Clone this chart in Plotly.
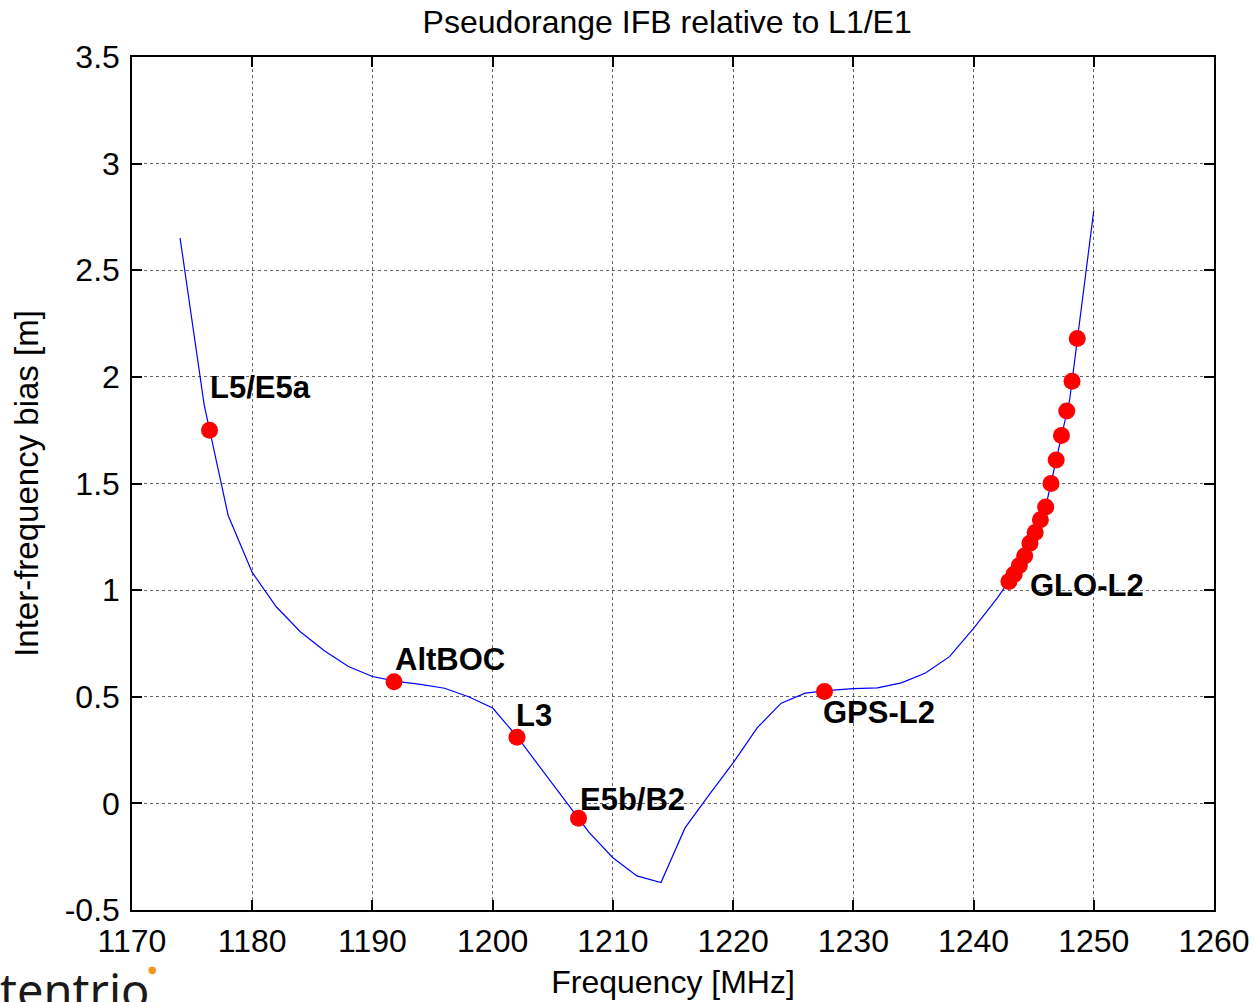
import plotly.graph_objects as go

# Interference-frequency bias curve
curve_freq = [1174, 1176, 1178, 1180, 1182, 1184, 1186, 1188, 1190, 1192, 1194, 1196,
              1198, 1200, 1202, 1204, 1206, 1208, 1210, 1212, 1214, 1216, 1218, 1220,
              1222, 1224, 1226, 1228, 1230, 1232, 1234, 1236, 1238, 1240, 1242, 1244,
              1246, 1248, 1250]
curve_bias = [2.651, 1.87, 1.35, 1.083, 0.922, 0.805, 0.716, 0.642, 0.595, 0.572, 0.558, 0.54,
              0.50, 0.447, 0.315, 0.165, 0.015, -0.135, -0.255, -0.34, -0.371, -0.115, 0.04, 0.19,
              0.354, 0.47, 0.517, 0.53, 0.538, 0.542, 0.565, 0.611, 0.688, 0.821, 0.965, 1.13,
              1.39, 1.895, 2.78]

# Signal markers
sig_freq = [1176.45, 1191.795, 1202.025, 1207.14, 1227.6]
sig_bias = [1.75, 0.57, 0.31, -0.07, 0.525]

# GLONASS L2 channels
glo_freq = [1242.94, 1243.375, 1243.81, 1244.25, 1244.69, 1245.125, 1245.56, 1246.0,
            1246.44, 1246.875, 1247.31, 1247.75, 1248.19, 1248.625]
glo_bias = [1.04, 1.075, 1.115, 1.16, 1.22, 1.27, 1.33, 1.39,
            1.50, 1.61, 1.725, 1.84, 1.98, 2.18]

# Labels
label_text = ["L5/E5a", "AltBOC", "L3", "E5b/B2", "GPS-L2", "GLO-L2"]
label_x = [1176.5, 1191.9, 1201.95, 1207.3, 1227.5, 1244.7]
label_y = [1.95, 0.673, 0.41, 0.016, 0.424, 1.02]

x_ticks = [1170, 1180, 1190, 1200, 1210, 1220, 1230, 1240, 1250, 1260]
y_ticks = [-0.5, 0, 0.5, 1, 1.5, 2, 2.5, 3, 3.5]

FONT = "Liberation Sans, Arial, sans-serif"

fig = go.Figure()
fig.add_trace(go.Scatter(x=curve_freq, y=curve_bias, mode="lines",
                         line=dict(color="#0000FF", width=1.2), hoverinfo="skip",
                         showlegend=False))
fig.add_trace(go.Scatter(x=sig_freq + glo_freq, y=sig_bias + glo_bias, mode="markers",
                         marker=dict(color="#FF0000", size=17, line=dict(width=0)),
                         showlegend=False))

for t, x, y in zip(label_text, label_x, label_y):
    fig.add_annotation(x=x, y=y, text="<b>%s</b>" % t, showarrow=False,
                       xanchor="left", yanchor="middle", xshift=-2,
                       font=dict(family=FONT, size=31, color="black"))

# logo
fig.add_annotation(xref="paper", yref="paper", x=-0.1235, y=-0.054, text="tentrio",
                   showarrow=False, xanchor="left", yanchor="top",
                   font=dict(family="Noto Sans, sans-serif", size=47, color="#1a1a1a"))
fig.add_annotation(xref="paper", yref="paper", x=0.019, y=-0.07, text="●",
                   showarrow=False, xanchor="center", yanchor="middle",
                   font=dict(family="DejaVu Sans", size=10, color="#F7941D"))

axis_common = dict(showline=True, linecolor="black", linewidth=1.5, mirror="ticks",
                   ticks="inside", ticklen=10, tickwidth=1.5, tickcolor="black",
                   showgrid=True, gridcolor="#666666", gridwidth=1, griddash="dot",
                   zeroline=False, automargin=False,
                   tickfont=dict(family=FONT, size=32, color="black"))

fig.update_xaxes(range=[1170, 1260], tickvals=x_ticks, ticktext=[str(v) for v in x_ticks],
                 title=dict(text="Frequency [MHz]", font=dict(family=FONT, size=32, color="black"),
                            standoff=12),
                 ticklabelstandoff=2,
                 **axis_common)
fig.update_yaxes(range=[-0.5, 3.5], tickvals=y_ticks, ticktext=[("%g" % v) for v in y_ticks],
                 title=dict(text="Inter-frequency bias [m]", font=dict(family=FONT, size=33, color="black"),
                            standoff=16),
                 ticklabelstandoff=4,
                 **axis_common)

fig.update_layout(
    width=1254, height=1002,
    margin=dict(l=132, r=40, t=57, b=92, autoexpand=False),
    paper_bgcolor="white", plot_bgcolor="white",
    title=dict(text="Pseudorange IFB relative to L1/E1", x=0.532, xanchor="center",
               y=0.978, yanchor="middle", font=dict(family=FONT, size=32, color="black")),
)

fig.write_html("out.html")
